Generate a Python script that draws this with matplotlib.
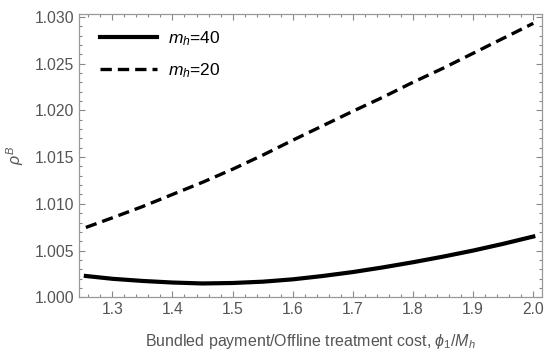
import matplotlib
matplotlib.use("Agg")
import matplotlib.pyplot as plt
from matplotlib.ticker import MultipleLocator, FormatStrFormatter

# Data
phi = [1.256, 1.30, 1.35, 1.40, 1.45, 1.50, 1.55, 1.60,
       1.65, 1.70, 1.75, 1.80, 1.85, 1.90, 1.95, 2.00]
rho_m40 = [1.00228, 1.00198, 1.00175, 1.00158, 1.00148, 1.00153, 1.00167, 1.00192,
           1.00228, 1.00270, 1.00320, 1.00375, 1.00435, 1.00500, 1.00572, 1.00650]
rho_m20 = [1.00747, 1.00850, 1.00970, 1.01100, 1.01230, 1.01370, 1.01520, 1.01680,
           1.01835, 1.01990, 1.02140, 1.02300, 1.02450, 1.02610, 1.02770, 1.02930]
labels = [r"$m_h$=40", r"$m_h$=20"]

gray = "#555555"
plt.rcParams["font.family"] = ["Liberation Sans", "DejaVu Sans"]
plt.rcParams["mathtext.fontset"] = "custom"
plt.rcParams["mathtext.it"] = "Liberation Sans:italic"
plt.rcParams["mathtext.rm"] = "Liberation Sans"

fig = plt.figure(figsize=(5.5, 3.56), dpi=100)
ax = fig.add_axes([79 / 550, 1 - 297.3 / 356, (541.7 - 79) / 550, (297.3 - 14) / 356])

ax.plot(phi, rho_m40, color="black", lw=3.0, label=labels[0])
ax.plot(phi, rho_m20, color="black", lw=2.4, dashes=(3.4, 1.8), label=labels[1])

ax.set_xlim(1.2446, 2.014)
ax.set_ylim(1.0, 1.0303)
ax.xaxis.set_major_locator(MultipleLocator(0.1))
ax.xaxis.set_minor_locator(MultipleLocator(0.02))
ax.yaxis.set_major_locator(MultipleLocator(0.005))
ax.yaxis.set_minor_locator(MultipleLocator(0.001))
ax.yaxis.set_major_formatter(FormatStrFormatter("%.3f"))

ax.tick_params(which="both", direction="in", top=True, right=True,
               colors="#888888", labelcolor=gray, labelsize=11.3, width=0.8)
ax.tick_params(which="major", length=4.5)
ax.tick_params(which="minor", length=2.5)
for s in ax.spines.values():
    s.set_color("#999999")
    s.set_linewidth(0.9)

ax.set_xlabel(r"Bundled payment/Offline treatment cost, $\phi_1/M_h$",
              color=gray, fontsize=11.5, labelpad=11)
ax.set_ylabel(r"$\rho^B$", color=gray, fontsize=11.5, labelpad=6)

ax.legend(loc="upper left", frameon=False, fontsize=12.5,
          handlelength=3.3, handletextpad=0.6, labelspacing=0.75,
          borderaxespad=0.0, bbox_to_anchor=(0.03, 0.97))

fig.savefig("out.png", dpi=100)
